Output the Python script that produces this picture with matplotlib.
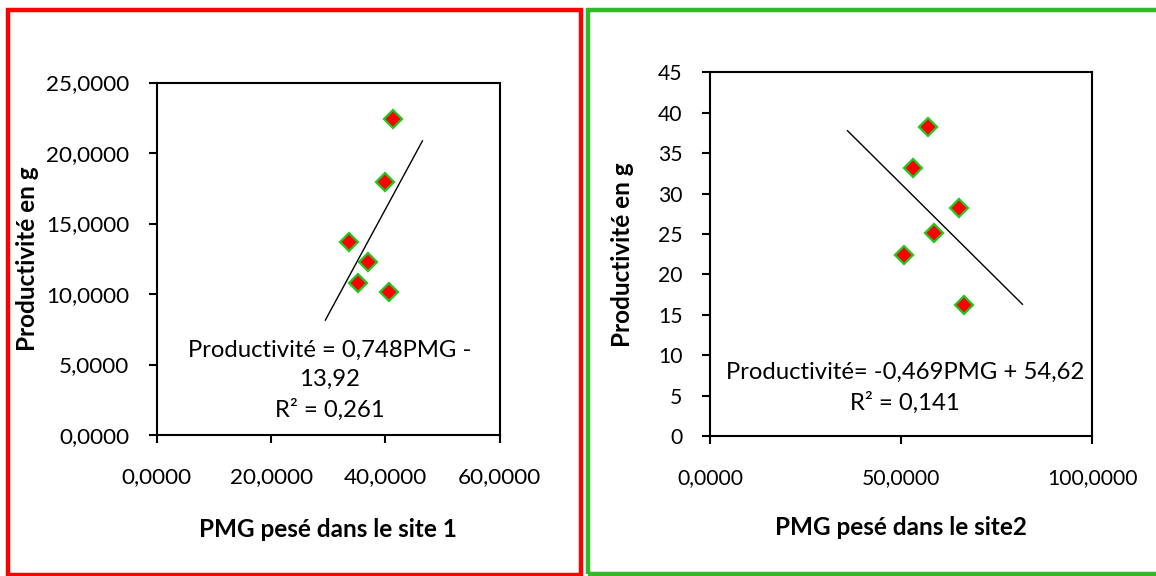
import numpy as np
import matplotlib.pyplot as plt
from matplotlib.patches import Rectangle

plt.rcParams.update({
    'font.family': ['Lato', 'DejaVu Sans'],
    'text.color': '#000000',
    'axes.edgecolor': '#000000',
    'xtick.color': '#000000',
    'ytick.color': '#000000',
})

# site 1
pmg_site1 = [41.4, 40.0, 33.6, 36.9, 35.2, 40.7]
prod_site1 = [22.4, 17.97, 13.67, 12.24, 10.81, 10.16]
slope1, intercept1, r2_1 = 0.748, -13.92, 0.261
trend_x1 = [29.5, 46.5]
xticks1 = [0, 20, 40, 60]
xlabels1 = ["0,0000", "20,0000", "40,0000", "60,0000"]
yticks1 = [0, 5, 10, 15, 20, 25]
ylabels1 = ["0,0000", "5,0000", "10,0000", "15,0000", "20,0000", "25,0000"]

# site 2
pmg_site2 = [57.0, 53.1, 65.2, 58.65, 50.8, 66.5]
prod_site2 = [38.2, 33.2, 28.2, 25.1, 22.35, 16.2]
slope2, intercept2, r2_2 = -0.469, 54.62, 0.141
trend_x2 = [35.9, 81.7]
xticks2 = [0, 50, 100]
xlabels2 = ["0,0000", "50,0000", "100,0000"]
yticks2 = [0, 5, 10, 15, 20, 25, 30, 35, 40, 45]
ylabels2 = [str(v) for v in yticks2]

W, H = 1156, 576
fig = plt.figure(figsize=(W / 100, H / 100), dpi=100)


def px_rect(left, top, right, bottom):
    return [left / W, 1 - bottom / H, (right - left) / W, (bottom - top) / H]


def scatter_panel(rect, x, y, slope, intercept, r2, tx, xt, xl, yt, yl,
                  xlabel, eq_text, eq_pos, tick_size, ylabel_x, xlabel_y):
    ax = fig.add_axes(rect)
    ax.plot(x, y, linestyle='none', marker='D', markersize=9.5,
            markerfacecolor='#ff0000', markeredgecolor='#1ec81e',
            markeredgewidth=1.6, zorder=3)
    tx = np.array(tx)
    ax.plot(tx, slope * tx + intercept, color='black', linewidth=1.0)

    ax.set_xlim(xt[0], xt[-1])
    ax.set_ylim(yt[0], yt[-1])
    ax.set_xticks(xt, xl)
    ax.set_yticks(yt, yl)
    ax.tick_params(direction='out', length=6, width=1.5,
                   labelsize=tick_size, top=False, right=False)
    ax.tick_params(axis='x', pad=17)
    ax.tick_params(axis='y', pad=14)
    for s in ax.spines.values():
        s.set_linewidth(1.5)

    ax.set_xlabel(xlabel, fontsize=17.5, fontweight='bold')
    ax.xaxis.set_label_coords(0.5, xlabel_y)
    ax.set_ylabel("Productivité en g", fontsize=17.5, fontweight='bold')
    ax.yaxis.set_label_coords(ylabel_x, 0.5)

    ax.text(eq_pos[0], eq_pos[1], eq_text.format(r2=str(r2).replace('.', ',')),
            transform=ax.transAxes, ha='center', va='center',
            fontsize=17.2, linespacing=1.5)
    return ax


scatter_panel(px_rect(156.8, 82.5, 499.6, 435), pmg_site1, prod_site1,
              slope1, intercept1, r2_1, trend_x1, xticks1, xlabels1,
              yticks1, ylabels1, "PMG pesé dans le site 1",
              "Productivité = 0,748PMG -\n13,92\nR² = {r2}",
              (0.505, 0.155), 16.2, -0.345, -0.235)

scatter_panel(px_rect(710.4, 72.4, 1092.3, 436), pmg_site2, prod_site2,
              slope2, intercept2, r2_2, trend_x2, xticks2, xlabels2,
              yticks2, ylabels2, "PMG pesé dans le site2",
              "Productivité= -0,469PMG + 54,62\nR² = {r2}",
              (0.51, 0.132), 15.2, -0.2, -0.22)

# panel frames
fig.add_artist(Rectangle((7.5 / W, 1 - 575 / H), (581 - 7.5) / W, (575 - 9.5) / H,
                         transform=fig.transFigure, fill=False,
                         edgecolor='#ff0000', linewidth=3.2))
fig.add_artist(Rectangle((588 / W, 1 - 573.5 / H), (1170 - 588) / W, (573.5 - 10) / H,
                         transform=fig.transFigure, fill=False,
                         edgecolor='#33b828', linewidth=3.2))

fig.savefig("out.png", dpi=100)
